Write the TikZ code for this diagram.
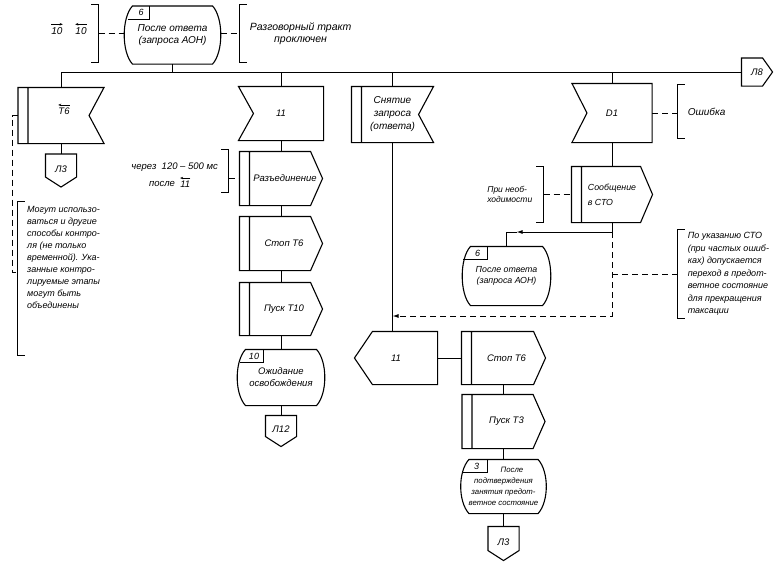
\documentclass[tikz,border=0pt]{standalone}
\usepackage{fontspec}
\setmainfont{Liberation Sans}
\usetikzlibrary{calc, arrows.meta}

\begin{document}
\begin{tikzpicture}[x=1pt, y=-1pt,
	box/.style={line width=1.1pt},
	link/.style={line width=1pt},
	cmtline/.style={line width=1pt, dash pattern=on 6pt off 4pt},
	overarrow/.style={line width=0.6pt, -{Stealth[length=3pt, width=2.5pt]}},
	sdltext/.style={inner sep=0pt, align=center, font=\itshape\fontsize{9.5}{12}\selectfont},
	extin/.style={sdltext, append after command={(\tikzlastnode.north west) -- (\tikzlastnode.north east) -- (\tikzlastnode.south east) -- (\tikzlastnode.south west) -- ([xshift=15pt]\tikzlastnode.west) -- cycle}},
	intin/.style={sdltext, append after command={(\tikzlastnode.north west) -- (\tikzlastnode.north east) -- ([xshift=-15pt]\tikzlastnode.east) -- (\tikzlastnode.south east) -- (\tikzlastnode.south west) -- cycle ([xshift=10pt]\tikzlastnode.north west) -- ([xshift=10pt]\tikzlastnode.south west)}},
	outsig/.style={sdltext, append after command={(\tikzlastnode.north west) -- ([xshift=-12pt]\tikzlastnode.north east) -- (\tikzlastnode.east) -- ([xshift=-12pt]\tikzlastnode.south east) -- (\tikzlastnode.south west) -- cycle ([xshift=10pt]\tikzlastnode.north west) -- ([xshift=10pt]\tikzlastnode.south west)}},
	leftsig/.style={sdltext, append after command={(\tikzlastnode.west) -- ([xshift=18pt]\tikzlastnode.north west) -- (\tikzlastnode.north east) -- (\tikzlastnode.south east) -- ([xshift=18pt]\tikzlastnode.south west) -- cycle}},
	state/.style={sdltext, append after command={([xshift=8pt]\tikzlastnode.north west) -- ([xshift=-8pt]\tikzlastnode.north east) .. controls ([xshift=3pt,yshift=-12pt]\tikzlastnode.north east) and ([xshift=3pt,yshift=12pt]\tikzlastnode.south east) .. ([xshift=-8pt]\tikzlastnode.south east) -- ([xshift=8pt]\tikzlastnode.south west) .. controls ([xshift=-3pt,yshift=12pt]\tikzlastnode.south west) and ([xshift=-3pt,yshift=-12pt]\tikzlastnode.north west) .. cycle}},
	tag/.style={inner sep=0pt, minimum width=16pt, minimum height=12pt, anchor=north west, font=\itshape\fontsize{9}{9}\selectfont, append after command={(\tikzlastnode.north east) -- (\tikzlastnode.south east) -- ([xshift=-4pt]\tikzlastnode.south west)}},
	downconn/.style={sdltext, minimum width=30pt, minimum height=32pt, append after command={(\tikzlastnode.north west) -- (\tikzlastnode.north east) -- ([yshift=10pt]\tikzlastnode.south east) -- (\tikzlastnode.south) -- ([yshift=10pt]\tikzlastnode.south west) -- cycle}},
	rightconn/.style={sdltext, minimum width=30pt, minimum height=27pt, append after command={(\tikzlastnode.north west) -- ([xshift=-10pt]\tikzlastnode.north east) -- (\tikzlastnode.east) -- ([xshift=-10pt]\tikzlastnode.south east) -- (\tikzlastnode.south west) -- cycle}},
	lbrk/.style={inner sep=0pt, minimum width=6pt, append after command={(\tikzlastnode.north east) -- (\tikzlastnode.north west) -- (\tikzlastnode.south west) -- (\tikzlastnode.south east)}},
	rbrk/.style={inner sep=0pt, minimum width=6pt, append after command={(\tikzlastnode.north west) -- (\tikzlastnode.north east) -- (\tikzlastnode.south east) -- (\tikzlastnode.south west)}},
	cmt/.style={inner sep=0pt, align=left, font=\itshape\fontsize{9}{12}\selectfont}]
	\useasboundingbox (0,0) rectangle (778,565);

	\node[cmt, font=\itshape\fontsize{10}{12}\selectfont] (in10a) at (57,31) {10};
	\node[cmt, font=\itshape\fontsize{10}{12}\selectfont] (in10b) at (81,31) {10};
	\draw[overarrow] ([yshift=3pt]in10a.north west) -- ([yshift=3pt]in10a.north east);
	\draw[overarrow] ([yshift=3pt]in10b.north east) -- ([yshift=3pt]in10b.north west);
	\draw[box] node[rbrk, minimum height=57pt] (cb0) at (95,33.5) {};
	\draw[box] node[state, minimum width=95pt, minimum height=57pt, font=\itshape\fontsize{10}{11.5}\selectfont] (s6a) at (172.5,35) {После ответа\\(запроса АОН)};
	\draw[box] node[tag, minimum width=16pt] (tg6a) at ([xshift=8pt]s6a.north west) {6};
	\draw[box] node[lbrk, minimum height=57pt] (cb1) at (243,33.5) {};
	\node[cmt, align=center, anchor=west, font=\itshape\fontsize{10.5}{12}\selectfont] (c1) at ([xshift=3pt]cb1.east) {Разговорный тракт\\проключен};
	\draw[cmtline] (cb0.east) -- (cb0.east -| s6a.west);
	\draw[cmtline] (s6a.east |- cb1.west) -- (cb1.west);

	\draw[box] node[rightconn] (l8) at (757,72) {Л8};

	\draw[box] node[intin, minimum width=85pt, minimum height=55pt] (t6in) at (61,115.5) {};
	\node[sdltext] (t6lbl) at ([xshift=3pt, yshift=4pt]t6in.center) {Т6};
	\draw[overarrow] ([yshift=3pt]t6lbl.north east) -- ([yshift=3pt]t6lbl.north west);
	\draw[box] node[downconn] (l3a) at (61,170.5) {\raisebox{3pt}{Л3}};
	\draw[link] (t6in.north) |- (l8.west);
	\draw[link] (s6a.south) -- (s6a.south |- l8.west);
	\draw[link] (t6in.south) -- (l3a.north);
	\draw[box] node[lbrk, minimum height=153pt] (cb2) at (21,278.5) {};
	\node[cmt, anchor=north west] (c2) at (27,206) {Могут использо-\\ваться и другие\\способы контро-\\ля (не только\\временной). Ука-\\занные контро-\\лируемые этапы\\могут быть\\объединены};
	\coordinate (cj2) at (12,272);
	\draw[cmtline] (t6in.west) -| (cj2) -- (cj2 -| cb2.west);

	\draw[box] node[extin, minimum width=84pt, minimum height=53pt] (in11) at (281,113.5) {11};
	\draw[box] node[outsig, minimum width=82pt, minimum height=53pt] (disc) at (281,178.5) {\hspace*{8pt}Разъединение};
	\draw[box] node[outsig, minimum width=82pt, minimum height=53pt] (stop6a) at (281,243.5) {\hspace*{6pt}Стоп Т6};
	\draw[box] node[outsig, minimum width=82pt, minimum height=52pt] (start10) at (281,309) {\hspace*{6pt}Пуск Т10};
	\draw[box] node[state, minimum width=86pt, minimum height=55pt] (s10) at (281,377.5) {Ожидание\\освобождения};
	\draw[box] node[tag, minimum width=18pt] (tg10) at ([xshift=7pt]s10.north west) {10};
	\draw[box] node[downconn, minimum height=30pt] (l12) at (281,431) {\raisebox{3pt}{Л12}};
	\draw[link] (in11.north) -- (in11.north |- l8.west);
	\draw[link] (in11.south) -- (disc.north);
	\draw[link] (disc.south) -- (stop6a.north);
	\draw[link] (stop6a.south) -- (start10.north);
	\draw[link] (start10.south) -- (s10.north);
	\draw[link] (s10.south) -- (l12.north);
	\draw[box] node[rbrk, minimum height=42pt] (cb3) at (225,171) {};
	\node[cmt, anchor=east, font=\itshape\fontsize{9.5}{12}\selectfont] (c3a) at (218,167) {через \ 120 -- 500 мс};
	\node[cmt, font=\itshape\fontsize{9.5}{12}\selectfont] (c3b) at (162,184) {после};
	\node[cmt, anchor=west, font=\itshape\fontsize{9.5}{12}\selectfont] (c3c) at ([xshift=5pt]c3b.east) {11};
	\draw[overarrow] ([yshift=2.5pt]c3c.north east) -- ([yshift=2.5pt]c3c.north west);
	\draw[cmtline] (cb3.east |- disc.west) -- (disc.west);

	\draw[box] node[intin, minimum width=81pt, minimum height=55pt, font=\itshape\fontsize{10}{13}\selectfont] (snin) at (392.5,114.5) {Снятие\\запроса\\(ответа)};
	\draw[box] node[leftsig, minimum width=82pt, minimum height=52pt] (out11) at (396,358) {11};
	\draw[box] node[outsig, minimum width=83pt, minimum height=52pt] (stop6b) at (503.5,358) {\hspace*{6pt}Стоп Т6};
	\draw[box] node[outsig, minimum width=82pt, minimum height=53pt] (start3) at (503.5,421.5) {\hspace*{6pt}Пуск Т3};
	\draw[box] node[state, minimum width=84pt, minimum height=53pt, font=\itshape\fontsize{7.8}{11}\selectfont] (s3) at (503.5,486.5) {\hspace*{17pt}После\\подтверждения\\занятия предот-\\ветное состояние};
	\draw[box] node[tag, minimum width=20pt] (tg3) at ([xshift=5pt]s3.north west) {3};
	\draw[box] node[downconn, minimum height=33pt] (l3b) at (503.5,543.5) {\raisebox{3pt}{Л3}};
	\draw[link] (snin.north) -- (snin.north |- l8.west);
	\draw[link] (snin.south) -- (snin.south |- out11.north);
	\draw[link] (out11.east) -- (stop6b.west);
	\draw[link] (stop6b.south) -- (start3.north);
	\draw[link] (start3.south) -- (s3.north);
	\draw[link] (s3.south) -- (l3b.north);

	\draw[box] node[extin, minimum width=79pt, minimum height=58pt] (d1in) at (612,113) {D1};
	\draw[box] node[lbrk, minimum height=53pt] (cb4) at (681,111.5) {};
	\node[cmt, anchor=west, font=\itshape\fontsize{10}{12}\selectfont] (c4) at ([xshift=3pt]cb4.east) {Ошибка};
	\draw[cmtline] (d1in.east) -- (d1in.east -| cb4.west);
	\draw[link] (d1in.north) -- (d1in.north |- l8.west);
	\draw[box] node[outsig, minimum width=80pt, minimum height=55pt, align=left, font=\itshape\fontsize{8.8}{15}\selectfont] (msg) at (612,194.5) {Сообщение\\в СТО};
	\draw[link] (d1in.south) -- (msg.north);
	\draw[box] node[rbrk, minimum height=55pt] (cb5) at (540,194.5) {};
	\node[cmt, anchor=east, font=\itshape\fontsize{8.5}{10.5}\selectfont] (c5) at ([xshift=-4pt]cb5.west) {При необ-\\ходимости};
	\draw[cmtline] (cb5.east) -- (msg.west);
	\draw[box] node[state, minimum width=87pt, minimum height=58pt, font=\itshape\fontsize{8.8}{10.5}\selectfont] (s6b) at (506.5,276) {После ответа\\(запроса АОН)};
	\draw[box] node[tag, minimum width=19pt] (tg6b) at ([xshift=5pt]s6b.north west) {6};
	\coordinate (mj) at (612,232);
	\coordinate (dj) at (612,316);
	\draw[link] (msg.south) -- (mj);
	\draw[link, -{Latex[length=6pt, width=4pt]}] (mj) -- ([xshift=10pt]mj -| s6b.north);
	\draw[link] ([xshift=10pt]mj -| s6b.north) -| (s6b.north);
	\draw[cmtline, -{Latex[length=6pt, width=4pt]}] (mj) |- (snin.south |- dj);
	\draw[box] node[lbrk, minimum height=88pt] (cb6) at (681,274) {};
	\node[cmt, anchor=west, font=\itshape\fontsize{9}{12.5}\selectfont] (c6) at ([xshift=3pt]cb6.east) {По указанию СТО\\(при частых ошиб-\\ках) допускается\\переход в предот-\\ветное состояние\\для прекращения\\таксации};
	\draw[cmtline] (mj |- cb6.west) -- (cb6.west);
\end{tikzpicture}
\end{document}
